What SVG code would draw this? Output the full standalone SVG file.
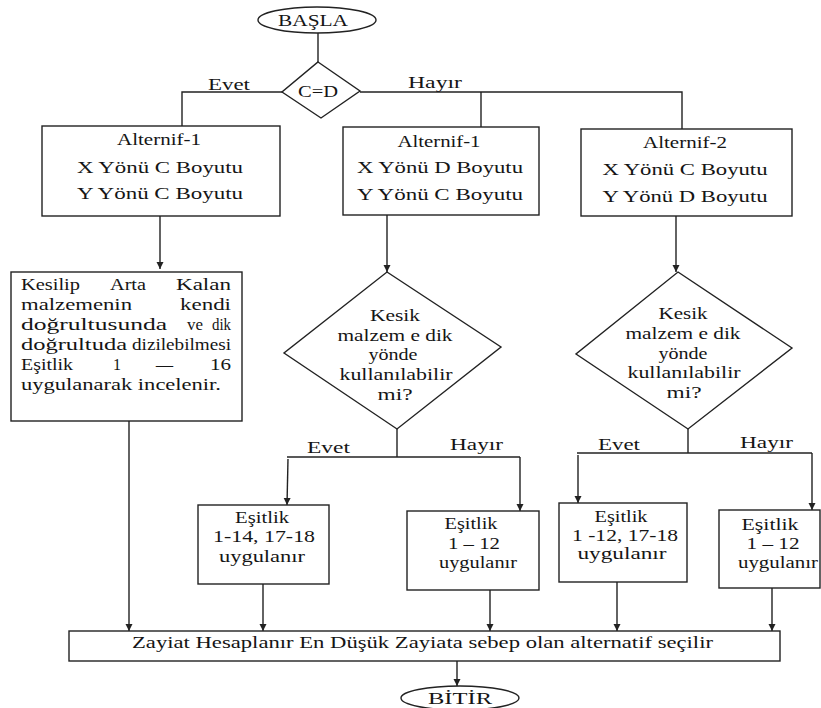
<svg xmlns="http://www.w3.org/2000/svg" width="821" height="708" viewBox="0 0 821 708">
<style>
.s{fill:#fff;stroke:#222;stroke-width:1.4}
.c{fill:none;stroke:#222;stroke-width:1.4}
text{font-family:"Liberation Serif","DejaVu Serif","Times New Roman",serif;font-size:16px;fill:#151515}
.m{text-anchor:middle}
.e{text-anchor:end}
</style>
<defs>
<marker id="a" markerUnits="userSpaceOnUse" markerWidth="8" markerHeight="8" refX="7" refY="3.5" orient="auto">
<path d="M0,0 L7,3.5 L0,7 z" fill="#222"/>
</marker>
</defs>
<rect width="821" height="708" fill="#fff"/>
<g id="connectors" font-family="Liberation Serif, serif">
<path class="c" d="M318,33 V62"/>
<path class="c" d="M282,92 H182 V126"/>
<path class="c" d="M360,92 H682 V129"/>
<path class="c" d="M481,92 V127"/>
<path class="c" d="M160,216 V269" marker-end="url(#a)"/>
<path class="c" d="M387,215 V272" marker-end="url(#a)"/>
<path class="c" d="M676,216 V272" marker-end="url(#a)"/>
<path class="c" d="M129,421 V631" marker-end="url(#a)"/>
<path class="c" d="M397,429 V457"/>
<path class="c" d="M287,457 H520"/>
<path class="c" d="M288,459 L287,505" marker-end="url(#a)"/>
<path class="c" d="M520,457 V511" marker-end="url(#a)"/>
<path class="c" d="M688,429 V453"/>
<path class="c" d="M577,453 H812"/>
<path class="c" d="M578,455 V503" marker-end="url(#a)"/>
<path class="c" d="M812,453 V510" marker-end="url(#a)"/>
<path class="c" d="M263,584 V631" marker-end="url(#a)"/>
<path class="c" d="M490,590 V631" marker-end="url(#a)"/>
<path class="c" d="M617,582 V631" marker-end="url(#a)"/>
<path class="c" d="M772,588 V631" marker-end="url(#a)"/>
<path class="c" d="M457,661 V686" marker-end="url(#a)"/>
<text x="208" y="90" textLength="42" lengthAdjust="spacingAndGlyphs">Evet</text>
<text x="408" y="88" textLength="54" lengthAdjust="spacingAndGlyphs">Hayır</text>
<text x="307" y="453" textLength="43" lengthAdjust="spacingAndGlyphs">Evet</text>
<text x="450" y="450" textLength="53" lengthAdjust="spacingAndGlyphs">Hayır</text>
<text x="598" y="450" textLength="42" lengthAdjust="spacingAndGlyphs">Evet</text>
<text x="740" y="448" textLength="53" lengthAdjust="spacingAndGlyphs">Hayır</text>
</g>
<g id="start">
<ellipse class="s" cx="317" cy="20" rx="59" ry="13"/>
<text x="313" y="26" class="m" textLength="70" lengthAdjust="spacingAndGlyphs">BAŞLA</text>
</g>
<g id="decision-cd">
<polygon class="s" points="318,62 360,91 321,118 282,92"/>
<text x="318" y="97" class="m" textLength="40" lengthAdjust="spacingAndGlyphs">C=D</text>
</g>
<g id="box-alt1-c">
<rect class="s" x="42" y="126" width="238" height="90"/>
<text x="159" y="145" class="m" textLength="84" lengthAdjust="spacingAndGlyphs">Alternif-1</text>
<text x="160" y="173" class="m" textLength="166" lengthAdjust="spacingAndGlyphs">X Yönü C Boyutu</text>
<text x="160" y="199" class="m" textLength="166" lengthAdjust="spacingAndGlyphs">Y Yönü C Boyutu</text>
</g>
<g id="box-alt1-d">
<rect class="s" x="343" y="127" width="196" height="88"/>
<text x="439" y="147" class="m" textLength="83" lengthAdjust="spacingAndGlyphs">Alternif-1</text>
<text x="440" y="173" class="m" textLength="166" lengthAdjust="spacingAndGlyphs">X Yönü D Boyutu</text>
<text x="440" y="200" class="m" textLength="166" lengthAdjust="spacingAndGlyphs">Y Yönü C Boyutu</text>
</g>
<g id="box-alt2">
<rect class="s" x="581" y="129" width="211" height="87"/>
<text x="685" y="148" class="m" textLength="84" lengthAdjust="spacingAndGlyphs">Alternif-2</text>
<text x="685" y="175" class="m" textLength="165" lengthAdjust="spacingAndGlyphs">X Yönü C Boyutu</text>
<text x="685" y="202" class="m" textLength="165" lengthAdjust="spacingAndGlyphs">Y Yönü D Boyutu</text>
</g>
<g id="box-kesilip">
<rect class="s" x="11" y="272" width="231" height="149"/>
<text x="21" y="290" textLength="59" lengthAdjust="spacingAndGlyphs">Kesilip</text>
<text x="110" y="290" textLength="36" lengthAdjust="spacingAndGlyphs">Arta</text>
<text x="231" y="290" class="e" textLength="55" lengthAdjust="spacingAndGlyphs">Kalan</text>
<text x="21" y="310" textLength="111" lengthAdjust="spacingAndGlyphs">malzemenin</text>
<text x="231" y="310" class="e" textLength="51" lengthAdjust="spacingAndGlyphs">kendi</text>
<text x="21" y="330" textLength="146" lengthAdjust="spacingAndGlyphs">doğrultusunda</text>
<text x="187" y="330" textLength="16" lengthAdjust="spacingAndGlyphs">ve</text>
<text x="231" y="330" class="e" textLength="19" lengthAdjust="spacingAndGlyphs">dik</text>
<text x="21" y="350" textLength="106" lengthAdjust="spacingAndGlyphs">doğrultuda</text>
<text x="231" y="350" class="e" textLength="99" lengthAdjust="spacingAndGlyphs">dizilebilmesi</text>
<text x="21" y="370" textLength="52" lengthAdjust="spacingAndGlyphs">Eşitlik</text>
<text x="113" y="370">1</text>
<text x="156" y="370" textLength="17" lengthAdjust="spacingAndGlyphs">–</text>
<text x="231" y="370" class="e" textLength="21" lengthAdjust="spacingAndGlyphs">16</text>
<text x="21" y="390" textLength="200" lengthAdjust="spacingAndGlyphs">uygulanarak incelenir.</text>
</g>
<g id="decision-mid">
<polygon class="s" points="387,272 501,347 397,429 284,353"/>
<text x="395" y="321" class="m" textLength="50" lengthAdjust="spacingAndGlyphs">Kesik</text>
<text x="395" y="341" class="m" textLength="115" lengthAdjust="spacingAndGlyphs">malzem e dik</text>
<text x="393" y="360" class="m" textLength="49" lengthAdjust="spacingAndGlyphs">yönde</text>
<text x="396" y="380" class="m" textLength="113" lengthAdjust="spacingAndGlyphs">kullanılabilir</text>
<text x="395" y="400" class="m" textLength="35" lengthAdjust="spacingAndGlyphs">mi?</text>
</g>
<g id="decision-right">
<polygon class="s" points="678,272 792,348 688,429 576,354"/>
<text x="683" y="319" class="m" textLength="49" lengthAdjust="spacingAndGlyphs">Kesik</text>
<text x="683" y="339" class="m" textLength="115" lengthAdjust="spacingAndGlyphs">malzem e dik</text>
<text x="683" y="359" class="m" textLength="49" lengthAdjust="spacingAndGlyphs">yönde</text>
<text x="684" y="378" class="m" textLength="113" lengthAdjust="spacingAndGlyphs">kullanılabilir</text>
<text x="684" y="398" class="m" textLength="35" lengthAdjust="spacingAndGlyphs">mi?</text>
</g>
<g id="box-esitlik-a">
<rect class="s" x="198" y="505" width="131" height="79"/>
<text x="262" y="523" class="m" textLength="54" lengthAdjust="spacingAndGlyphs">Eşitlik</text>
<text x="264" y="542" class="m" textLength="102" lengthAdjust="spacingAndGlyphs">1-14, 17-18</text>
<text x="262" y="562" class="m" textLength="86" lengthAdjust="spacingAndGlyphs">uygulanır</text>
</g>
<g id="box-esitlik-b">
<rect class="s" x="407" y="511" width="132" height="79"/>
<text x="471" y="529" class="m" textLength="53" lengthAdjust="spacingAndGlyphs">Eşitlik</text>
<text x="474" y="549" class="m" textLength="52" lengthAdjust="spacingAndGlyphs">1 – 12</text>
<text x="478" y="568" class="m" textLength="78" lengthAdjust="spacingAndGlyphs">uygulanır</text>
</g>
<g id="box-esitlik-c">
<rect class="s" x="559" y="503" width="128" height="79"/>
<text x="621" y="522" class="m" textLength="53" lengthAdjust="spacingAndGlyphs">Eşitlik</text>
<text x="625" y="541" class="m" textLength="106" lengthAdjust="spacingAndGlyphs">1 -12, 17-18</text>
<text x="622" y="559" class="m" textLength="89" lengthAdjust="spacingAndGlyphs">uygulanır</text>
</g>
<g id="box-esitlik-d">
<rect class="s" x="719" y="510" width="101" height="78"/>
<text x="770" y="530" class="m" textLength="57" lengthAdjust="spacingAndGlyphs">Eşitlik</text>
<text x="773" y="549" class="m" textLength="53" lengthAdjust="spacingAndGlyphs">1 – 12</text>
<text x="778" y="568" class="m" textLength="80" lengthAdjust="spacingAndGlyphs">uygulanır</text>
</g>
<g id="box-zayiat">
<rect class="s" x="69" y="631" width="711" height="30"/>
<text x="132" y="648" textLength="581" lengthAdjust="spacingAndGlyphs">Zayiat Hesaplanır En Düşük Zayiata sebep olan alternatif seçilir</text>
</g>
<g id="end">
<ellipse class="s" cx="460" cy="698" rx="59" ry="12"/>
<text x="460" y="704" class="m" textLength="64" lengthAdjust="spacingAndGlyphs" font-size="15">BİTİR</text>
</g>
</svg>
